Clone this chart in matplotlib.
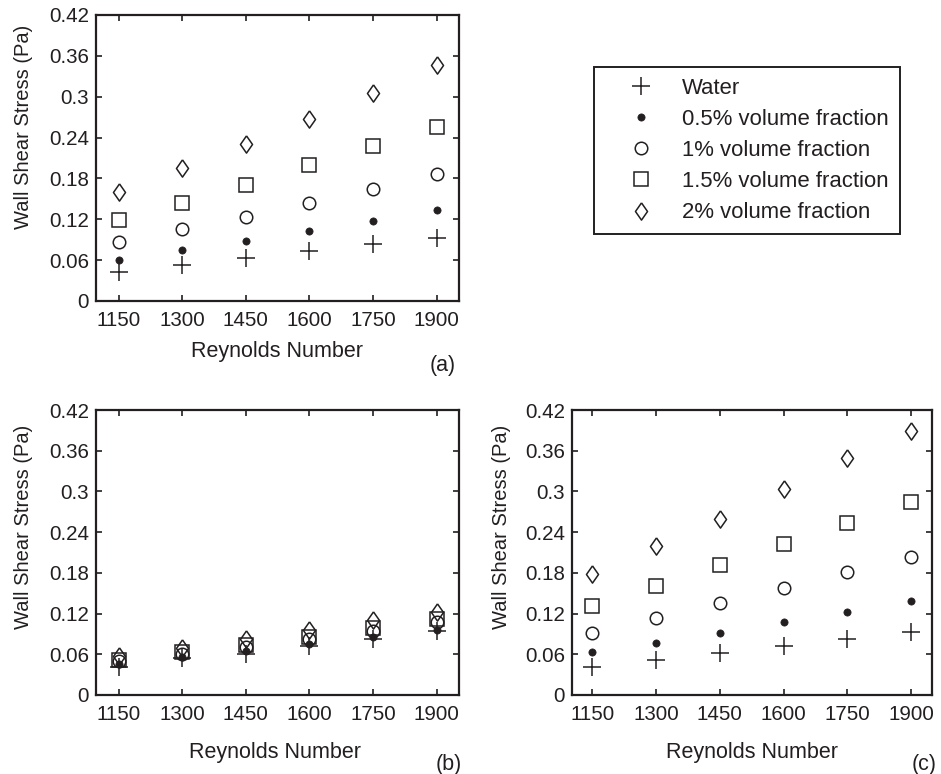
import matplotlib
matplotlib.use("Agg")
import matplotlib.pyplot as plt
from matplotlib.lines import Line2D

# ---------------- data ----------------
reynolds = [1150, 1300, 1450, 1600, 1750, 1900]
series_labels = ["Water", "0.5% volume fraction", "1% volume fraction",
                 "1.5% volume fraction", "2% volume fraction"]
x_ticks = [1150, 1300, 1450, 1600, 1750, 1900]
y_ticks = [0, 0.06, 0.12, 0.18, 0.24, 0.3, 0.36, 0.42]
y_ticklabels = ["0", "0.06", "0.12", "0.18", "0.24", "0.3", "0.36", "0.42"]

# panel (a)
water_a = [0.043, 0.053, 0.063, 0.073, 0.083, 0.093]
vf05_a = [0.060, 0.075, 0.088, 0.103, 0.117, 0.133]
vf1_a = [0.086, 0.106, 0.124, 0.144, 0.164, 0.186]
vf15_a = [0.119, 0.144, 0.171, 0.199, 0.228, 0.255]
vf2_a = [0.160, 0.195, 0.230, 0.268, 0.306, 0.346]

# panel (b)
water_b = [0.042, 0.054, 0.061, 0.072, 0.083, 0.094]
vf05_b = [0.045, 0.056, 0.065, 0.075, 0.085, 0.096]
vf1_b = [0.050, 0.061, 0.071, 0.083, 0.095, 0.108]
vf15_b = [0.052, 0.064, 0.074, 0.086, 0.099, 0.112]
vf2_b = [0.057, 0.069, 0.082, 0.096, 0.110, 0.123]

# panel (c)
water_c = [0.042, 0.052, 0.062, 0.072, 0.083, 0.093]
vf05_c = [0.064, 0.076, 0.092, 0.107, 0.122, 0.139]
vf1_c = [0.092, 0.113, 0.135, 0.158, 0.181, 0.204]
vf15_c = [0.131, 0.161, 0.192, 0.223, 0.253, 0.285]
vf2_c = [0.179, 0.220, 0.260, 0.303, 0.349, 0.389]

# ---------------- style ----------------
plt.rcParams['font.family'] = ['Liberation Sans', 'DejaVu Sans']
INK = '#231f20'
W, H = 941, 774
DPI = 100

diamond = [(0, 1), (0.7, 0), (0, -1), (-0.7, 0), (0, 1)]
styles = [
    dict(marker='+', markersize=12.5, markeredgewidth=1.1, color=INK),
    dict(marker='o', markersize=5.2, markerfacecolor=INK, markeredgecolor=INK, markeredgewidth=0.5),
    dict(marker='o', markersize=9.0, markerfacecolor='none', markeredgecolor=INK, markeredgewidth=1.1),
    dict(marker='s', markersize=9.6, markerfacecolor='none', markeredgecolor=INK, markeredgewidth=1.1),
    dict(marker=diamond, markersize=12.4, markerfacecolor='none', markeredgecolor=INK, markeredgewidth=1.1),
]

fig = plt.figure(figsize=(W / DPI, H / DPI), dpi=DPI)


def px_axes(left, top, right, bottom):
    return fig.add_axes([left / W, 1 - bottom / H, (right - left) / W, (bottom - top) / H])


def draw_panel(ax, data, xlim, tag, tag_xy, ylabel_xy, xlabel_xy):
    for vals, st in zip(data, styles):
        ax.plot(reynolds, vals, linestyle='none', **st)
    ax.set_xlim(*xlim)
    ax.set_ylim(0, 0.42)
    ax.set_xticks(x_ticks)
    ax.set_xticklabels([str(t) for t in x_ticks])
    ax.set_yticks(y_ticks)
    ax.set_yticklabels(y_ticklabels)
    ax.tick_params(direction='in', length=4, width=1.2, colors=INK,
                   top=True, right=True, labelsize=14.8)
    ax.tick_params(axis='x', pad=7)
    ax.tick_params(axis='y', pad=5)
    for s in ax.spines.values():
        s.set_linewidth(1.6)
        s.set_color(INK)
    fig.text(xlabel_xy[0] / W, 1 - xlabel_xy[1] / H, "Reynolds Number",
             ha='center', va='baseline', fontsize=15.5, color=INK)
    fig.text(ylabel_xy[0] / W, 1 - ylabel_xy[1] / H, "Wall Shear Stress (Pa)",
             ha='center', va='center', rotation=90, fontsize=14.5, color=INK)
    fig.text(tag_xy[0] / W, 1 - tag_xy[1] / H, tag,
             ha='center', va='baseline', fontsize=15.5, color=INK)


ax_a = px_axes(96, 15, 459, 301)
draw_panel(ax_a, [water_a, vf05_a, vf1_a, vf15_a, vf2_a], (1096.7, 1952.5),
           "(a)", (442.5, 371), (24, 127), (277, 357))

ax_b = px_axes(96, 410, 459, 695)
draw_panel(ax_b, [water_b, vf05_b, vf1_b, vf15_b, vf2_b], (1096.7, 1952.5),
           "(b)", (449, 770), (24, 527), (275, 758))

ax_c = px_axes(572, 410, 932, 695)
draw_panel(ax_c, [water_c, vf05_c, vf1_c, vf15_c, vf2_c], (1102, 1949.5),
           "(c)", (924, 770), (502, 527), (752, 758))

# legend
handles = [Line2D([], [], linestyle='none', **st) for st in styles]
leg = fig.legend(handles, series_labels, loc='upper left',
                 bbox_to_anchor=(594 / W, 1 - 66.7 / H), bbox_transform=fig.transFigure,
                 borderaxespad=0, borderpad=0.5, handlelength=3.3, handletextpad=0.2,
                 labelspacing=0.46, numpoints=1, fancybox=False, framealpha=1,
                 edgecolor=INK, fontsize=15.9)
leg.get_frame().set_linewidth(1.4)
for t in leg.get_texts():
    t.set_color(INK)

fig.savefig("out.png", dpi=DPI)
